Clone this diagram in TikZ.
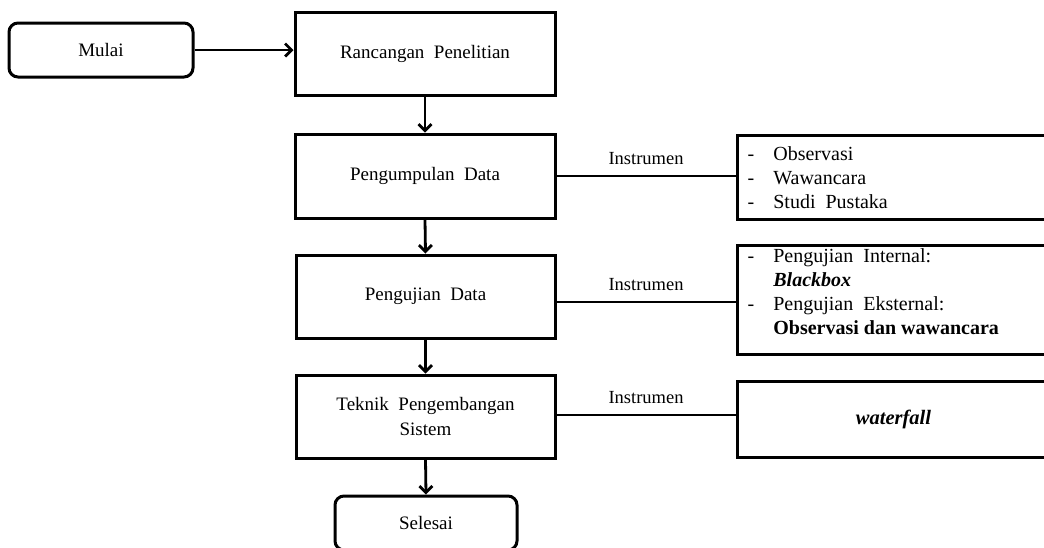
\documentclass[tikz,border=0pt]{standalone}
\usepackage{fontspec}
\setmainfont{Liberation Serif}
\usetikzlibrary{arrows.meta}
\begin{document}
\begin{tikzpicture}[x=1pt,y=-1pt,
  stepbox/.style={draw, line width=3pt, inner sep=0pt, align=center, font=\fontsize{19}{25}\selectfont},
  termbox/.style={stepbox, rounded corners=9pt},
  flow/.style={line width=2.8pt, -{Straight Barb[length=6.5pt,width=13pt,line width=2.8pt]}},
  link/.style={line width=2.8pt},
  lbl/.style={above=9.5pt, inner sep=0pt, font=\fontsize{18.5}{22}\selectfont},
  listtext/.style={anchor=west, inner sep=0pt, font=\fontsize{20}{24}\selectfont}
]
\clip (0,0) rectangle (1044,547);
% left column
\node[termbox, minimum width=184pt, minimum height=54pt] (mulai) at (101,50) {Mulai};
\node[stepbox, minimum width=260pt, minimum height=83pt] (ranc) at (425,53.5) {Rancangan\ \ Penelitian};
\node[stepbox, minimum width=260pt, minimum height=84pt] (peng) at (425,176) {Pengumpulan\ \ Data};
\node[stepbox, minimum width=259pt, minimum height=83pt] (uji) at (425.5,296.5) {Pengujian\ \ Data};
\node[stepbox, minimum width=259pt, minimum height=83pt] (tek) at (425.5,416.5) {Teknik\ \ Pengembangan\\Sistem};
\node[termbox, minimum width=182pt, minimum height=54pt] (selesai) at (426,523) {Selesai};
% right column
\node[stepbox, minimum width=313pt, minimum height=84pt] (r1) at (893.5,177) {};
\node[stepbox, minimum width=313pt, minimum height=109pt] (r2) at (893.5,299.5) {};
\node[stepbox, minimum width=313pt, minimum height=76pt, font=\fontsize{20.5}{25}\selectfont] (r3) at (893.5,419) {\textbf{\textit{waterfall}}};
\node[listtext, xshift=12pt, yshift=-2.5pt] (r1t) at (r1.west) {\begin{tabular}{@{}l@{\hspace{19pt}}l@{}}-&Observasi\\-&Wawancara\\-&Studi\ \ Pustaka\end{tabular}};
\node[listtext, xshift=12pt, yshift=6pt] (r2t) at (r2.west) {\begin{tabular}{@{}l@{\hspace{19pt}}l@{}}-&Pengujian\ \ Internal:\\&\textbf{\textit{Blackbox}}\\-&Pengujian\ \ Eksternal:\\&\textbf{Observasi dan wawancara}\end{tabular}};
% connectors
\draw[flow] (mulai.east) -- (mulai.east -| ranc.west);
\draw[flow] (ranc.south) -- (peng.north);
\draw[flow] (peng.south) -- (uji.north);
\draw[flow] (uji.south) -- (tek.north);
\draw[flow] (tek.south) -- (selesai.north);
\draw[link] (peng.east) -- node[lbl] {Instrumen} (peng.east -| r1.west);
\draw[link] ([yshift=-5.5pt]uji.east) -- node[lbl] {Instrumen} ([yshift=-5.5pt]uji.east -| r2.west);
\draw[link] ([yshift=1.5pt]tek.east) -- node[lbl] {Instrumen} ([yshift=1.5pt]tek.east -| r3.west);
\end{tikzpicture}
\end{document}
